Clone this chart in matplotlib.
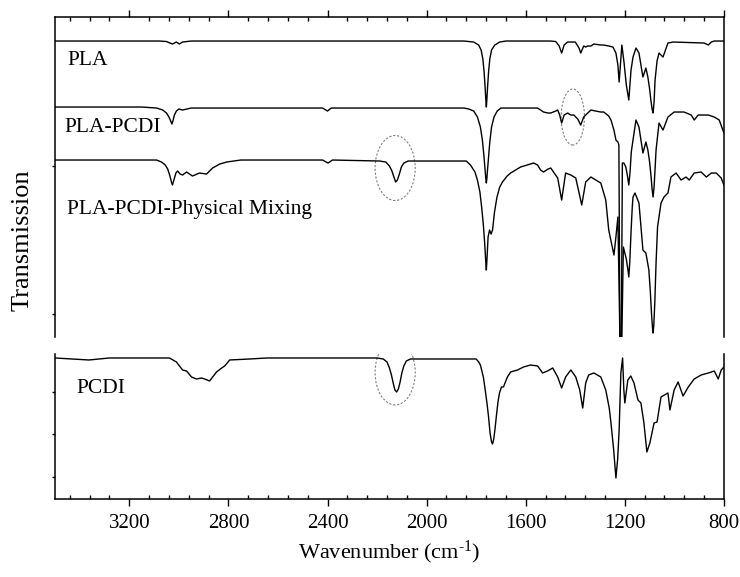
import matplotlib
matplotlib.use("Agg")
import matplotlib.pyplot as plt
from matplotlib.patches import Ellipse
from matplotlib.ticker import MultipleLocator, FixedLocator, NullFormatter

plt.rcParams['font.family'] = ['Liberation Serif', 'DejaVu Serif']
plt.rcParams['mathtext.default'] = 'regular'

# PLA (top panel, arbitrary transmission units)
pla_wn = [3500, 3080, 3050, 3036, 3026, 3010, 2998, 2985, 2950,
          1850, 1810, 1790, 1780, 1773, 1768, 1764, 1761, 1759, 1757, 1754,
          1750, 1745, 1738, 1725, 1705, 1680,
          1500, 1479, 1465, 1455, 1445, 1431, 1400, 1385, 1378, 1366, 1358,
          1350, 1337, 1325, 1297, 1285, 1265, 1248, 1236, 1228, 1223, 1217,
          1212, 1203, 1194, 1184, 1175, 1167, 1155, 1143, 1127, 1115, 1107,
          1100, 1095, 1090, 1086, 1082, 1078, 1070, 1062, 1046, 1026,
          1005, 880, 871, 863, 851, 839, 800]
pla_t = [296, 296, 295.5, 294, 293, 295, 293, 295, 296,
         296, 295, 292, 287, 278, 265, 250, 237, 230, 237, 250,
         265, 278, 287, 292, 295, 296,
         296, 295.5, 291, 284, 292, 295, 295, 289, 284, 291, 290,
         291, 291, 293, 292, 292, 291, 290, 284, 272, 255, 275,
         292, 274, 252, 237, 267, 280, 289, 284, 260, 269, 260,
         248, 237, 228, 224, 235, 257, 276, 284, 280, 294,
         295, 294, 293, 292, 295, 296, 296]

# PLA-PCDI
plapcdi_wn = [3500, 3150, 3090, 3065, 3050, 3040, 3033, 3028, 3024, 3018, 3010,
              3000, 2985, 2950, 2420, 2400, 2385,
              1850, 1830, 1810, 1795, 1783, 1775, 1769, 1764, 1761, 1759, 1757,
              1754, 1750, 1745, 1738, 1728, 1715, 1700,
              1552, 1540, 1528, 1510, 1499, 1479, 1471, 1463, 1455, 1445,
              1431, 1418, 1406, 1390, 1378, 1366, 1358, 1337, 1318, 1297, 1285, 1265,
              1256, 1244, 1236, 1228, 1224, 1220, 1214, 1210, 1204, 1196, 1190, 1184,
              1179, 1174, 1167, 1155, 1143, 1127, 1115, 1107, 1100, 1094, 1090, 1086,
              1082, 1078, 1074, 1062, 1046,
              1026, 1001, 961, 932, 920, 904, 863, 839, 819, 800]
plapcdi_t = [230, 230, 229, 227, 224, 220, 216, 213, 216, 222, 226,
             228, 227, 229, 229, 226, 229,
             229, 228, 226, 220, 210, 197, 182, 167, 158, 154, 158,
             168, 180, 195, 210, 220, 226, 229,
             229, 227, 225, 224, 224, 226, 227, 222, 214, 222,
             224, 222, 222, 218, 212, 220, 222, 227, 226, 225, 225, 221,
             217, 207, 197, 195, 192, 0, 0, 174, 174, 170, 162, 152,
             165, 185, 197, 217, 210, 184, 195, 187, 175, 160, 148, 140,
             150, 168, 187, 214, 207,
             220, 225, 225, 222, 217, 222, 222, 220, 217, 204]

# PLA-PCDI-Physical Mixing
mix_wn = [3500, 3100, 3090, 3070, 3055, 3045, 3036, 3030, 3026, 3020, 3012, 3005,
          2995, 2985, 2969, 2945, 2917, 2888, 2864, 2835, 2807, 2750, 2420, 2398,
          2380, 2190, 2165, 2150, 2140, 2132, 2125, 2118, 2110, 2102, 2092, 2075,
          1840, 1823, 1805, 1795, 1785, 1778, 1771, 1766, 1762, 1759, 1756, 1752,
          1746, 1740, 1734, 1726, 1716, 1705, 1694, 1675, 1661, 1621, 1568, 1552,
          1540, 1528, 1510, 1499, 1471, 1455, 1439, 1418, 1398, 1374, 1358, 1337,
          1297, 1277, 1265, 1244, 1236, 1228, 1220, 1212, 1206, 1194, 1188, 1184,
          1180, 1175, 1170, 1167, 1159, 1143, 1127, 1115, 1103, 1097, 1092, 1088,
          1086, 1083, 1079, 1074, 1068, 1054, 1042, 1026, 1014,
          993, 973, 953, 940, 920, 892, 871, 851, 831, 811, 800]
mix_t = [177, 177, 177, 175, 172, 168, 161, 155, 152, 157, 164, 166,
         163, 162, 165, 161, 164, 163, 169, 173, 175, 177, 177, 174,
         177, 176, 175, 171, 166, 160, 155, 157, 163, 170, 174, 176,
         176, 172, 165, 157, 145, 130, 112, 95, 78, 67, 80, 100,
         107, 103, 107, 125, 140, 150, 155, 161, 164, 170, 174, 172,
         167, 165, 168, 169, 159, 137, 164, 162, 159, 132, 155, 160,
         154, 137, 107, 82, 100, 120, 0, 0, 90, 78, 68, 60,
         75, 105, 130, 140, 144, 134, 87, 84, 67, 45, 22, 8,
         4, 12, 35, 74, 110, 134, 140, 144, 160,
         164, 157, 160, 157, 164, 165, 160, 164, 164, 159, 152]

# PCDI (bottom panel)
pcdi_wn = [3500, 3363, 3281, 3038, 3010, 2985, 2969, 2949, 2929, 2908, 2896, 2876,
           2848, 2827, 2815, 2795, 2714, 2645, 2200, 2175, 2160, 2150, 2142, 2135,
           2128, 2121, 2114, 2107, 2100, 2092, 2082, 2065, 2038,
           1800, 1790, 1783, 1771, 1763, 1756, 1750, 1744, 1738, 1734, 1729, 1724,
           1718, 1712, 1706, 1698, 1690, 1674,
           1661, 1633, 1609, 1580, 1552, 1532, 1512, 1491, 1471, 1455, 1439, 1418,
           1398, 1382, 1370, 1358, 1346, 1325, 1297, 1277, 1263, 1256, 1245, 1236,
           1229, 1223, 1216, 1209, 1204, 1200, 1188, 1176, 1163, 1147, 1135, 1123,
           1111, 1099, 1082, 1070, 1054, 1026, 1018, 1001, 985, 965, 944, 920,
           892, 863, 839, 823, 811, 800]
pcdi_t = [141, 139, 141, 141, 137, 129, 128, 122, 120, 121, 120, 118,
          127, 131, 133, 139, 140, 141, 141, 140, 137, 131, 124, 116,
          109, 107, 110, 117, 126, 133, 138, 140, 140,
          140, 137, 134, 122, 108, 95, 82, 66, 57, 55, 60, 70,
          84, 97, 106, 112, 112, 122,
          127, 129, 132, 134, 133, 126, 128, 131, 122, 111, 122, 129,
          122, 109, 91, 116, 124, 126, 122, 109, 91, 76, 49, 21,
          40, 69, 126, 141, 109, 96, 119, 123, 116, 99, 96, 76,
          47, 56, 76, 77, 102, 106, 89, 109, 117, 103, 112, 120,
          124, 126, 128, 120, 129, 132]

labels_top = ['PLA', 'PLA-PCDI', 'PLA-PCDI-Physical Mixing']
label_pos_top = [(3451, 277), (3463, 210), (3451, 128)]

fig = plt.figure(figsize=(7.4, 5.77), dpi=100)
ax1 = fig.add_axes([0.0743, 0.4159, 0.904, 0.5546])
ax2 = fig.add_axes([0.0743, 0.1352, 0.904, 0.2513])

for wn, t in [(pla_wn, pla_t), (plapcdi_wn, plapcdi_t), (mix_wn, mix_t)]:
    ax1.plot(wn, t, color='black', lw=1.0)
ax2.plot(pcdi_wn, pcdi_t, color='black', lw=1.0)

for txt, (x, y) in zip(labels_top, label_pos_top):
    ax1.text(x, y, txt, fontsize=15.5, ha='left', va='center')
ax2.text(3415, 110, 'PCDI', fontsize=15.5, ha='left', va='center')

# dashed circles marking the carbodiimide bands
ell_kw = dict(fill=False, edgecolor='#808080', lw=0.8, linestyle=(0, (2, 1.5)))
ax1.add_patch(Ellipse((2127, 169), 162, 65, **ell_kw))
ax1.add_patch(Ellipse((1410, 220), 94, 56, **ell_kw))
ax2.add_patch(Ellipse((2127, 126.5), 162, 65, **ell_kw))

for ax in (ax1, ax2):
    ax.set_xlim(3500, 800)
    ax.xaxis.set_major_locator(MultipleLocator(400))
    ax.xaxis.set_minor_locator(MultipleLocator(80))
    ax.tick_params(axis='x', which='major', direction='out', length=5, width=1)
    ax.tick_params(axis='x', which='minor', direction='in', length=3, width=1)
    ax.tick_params(axis='y', which='major', direction='out', length=2.5, width=1,
                   labelleft=False)
    ax.yaxis.set_major_formatter(NullFormatter())
    for s in ax.spines.values():
        s.set_linewidth(1.1)

ax1.set_ylim(0, 320)
ax1.yaxis.set_major_locator(FixedLocator([23, 171]))
ax1.xaxis.tick_top()
ax1.tick_params(axis='x', which='both', labeltop=False)
ax1.spines['bottom'].set_visible(False)

ax2.set_ylim(0, 145)
ax2.yaxis.set_major_locator(FixedLocator([22, 64.5, 107]))
ax2.spines['top'].set_visible(False)
ax2.tick_params(axis='x', which='both', top=False)
ax2.tick_params(axis='x', which='major', labelsize=15, pad=6)
ax2.set_xlabel('Wavenumber (cm$^{\u20101}$)', fontsize=16, labelpad=4)

fig.text(0.031, 0.583, 'Transmission', rotation=90, fontsize=19,
         ha='center', va='center')

fig.savefig('out.png', dpi=100)
